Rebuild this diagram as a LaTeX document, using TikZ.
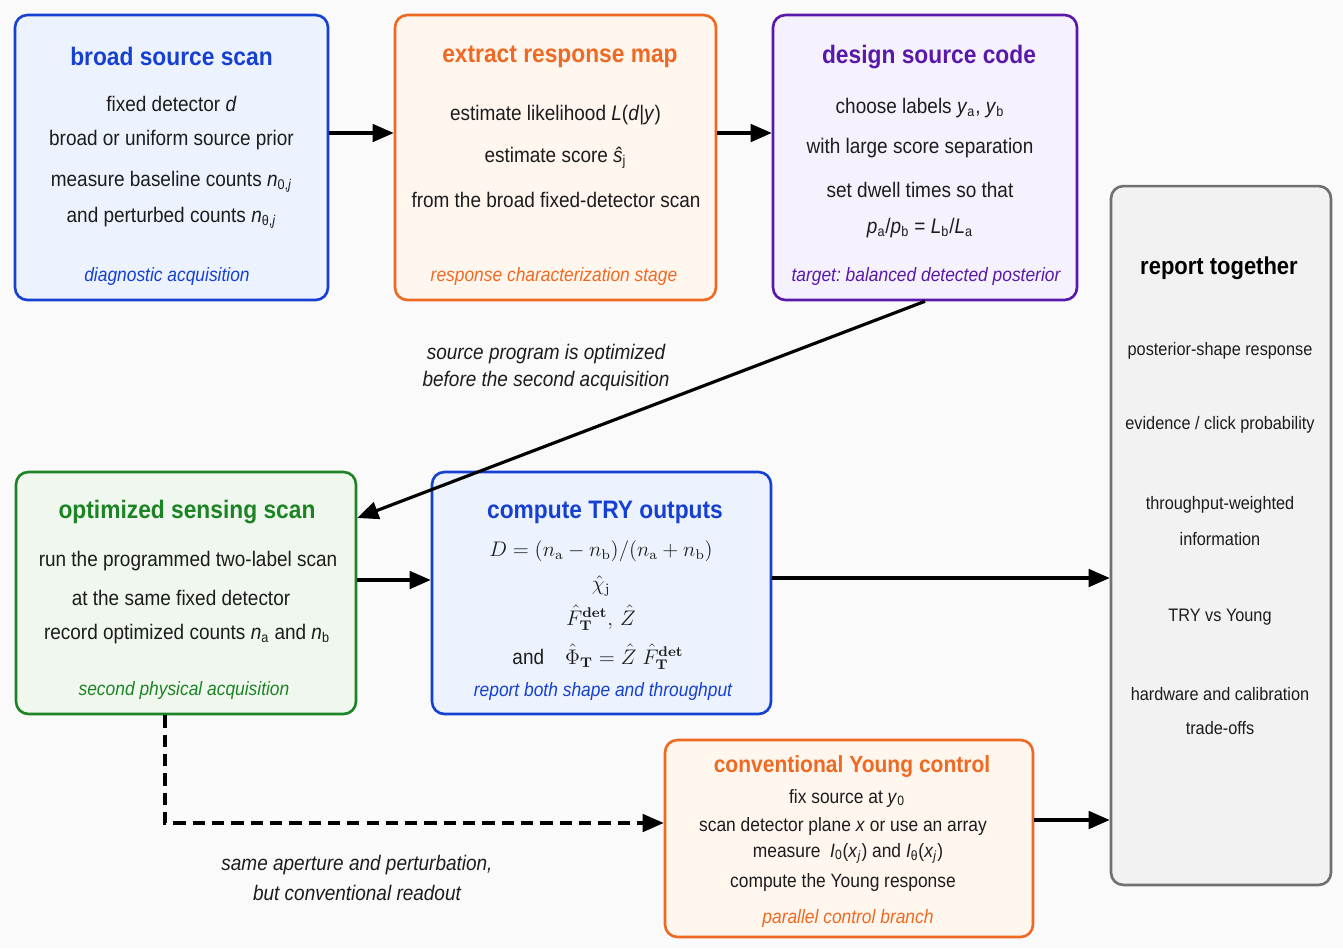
\documentclass[tikz,border=0pt]{standalone}
\usepackage{amsmath}
\usepackage[no-math]{fontspec}
\setmainfont{Liberation Sans}[FakeStretch=0.9]
\frenchspacing
\usetikzlibrary{arrows.meta, positioning}
\definecolor{pagebg}{RGB}{250,250,250}
\definecolor{tryblue}{RGB}{22,64,210}
\definecolor{trylight}{RGB}{237,243,254}
\definecolor{tryorange}{RGB}{240,105,35}
\definecolor{orangelight}{RGB}{255,246,238}
\definecolor{trypurple}{RGB}{88,25,170}
\definecolor{purplelight}{RGB}{246,242,253}
\definecolor{trygreen}{RGB}{28,132,36}
\definecolor{greenlight}{RGB}{240,247,238}
\definecolor{reportgray}{RGB}{112,112,112}
\definecolor{reportlight}{RGB}{242,242,242}
\definecolor{inktext}{RGB}{28,28,28}

\begin{document}
\begin{tikzpicture}[
    x=0.02cm, y=-0.02cm,
    stage/.style={draw, rounded corners=7pt, line width=1.5pt},
    ttl/.style={font=\fontsize{14.4}{16}\selectfont\bfseries},
    txt/.style={font=\fontsize{12}{14}\selectfont, text=inktext},
    small/.style={font=\fontsize{11}{13}\selectfont, text=inktext},
    caption/.style={font=\fontsize{11}{13}\selectfont\itshape},
    note/.style={font=\fontsize{12}{14}\selectfont\itshape, text=inktext},
    formula/.style={font=\fontsize{12}{14}\selectfont, text=inktext, inner sep=0pt},
    arr/.style={-{Triangle[length=12pt,width=10pt]}, line width=1.8pt}
]
\fill[pagebg] (0,0) rectangle (1343,948);

% stage boxes
\node[stage, draw=tryblue, fill=trylight, minimum width=6.26cm, minimum height=5.7cm] (broad) at (171.5,157.5) {};
\node[stage, draw=tryorange, fill=orangelight, minimum width=6.42cm, minimum height=5.7cm] (resp) at (555.5,157.5) {};
\node[stage, draw=trypurple, fill=purplelight, minimum width=6.08cm, minimum height=5.7cm] (code) at (925,157.5) {};
\node[stage, draw=trygreen, fill=greenlight, minimum width=6.8cm, minimum height=4.84cm] (opt) at (186,593) {};
\node[stage, draw=tryblue, fill=trylight, minimum width=6.78cm, minimum height=4.84cm] (try) at (601.5,593) {};
\node[stage, draw=tryorange, fill=orangelight, minimum width=7.36cm, minimum height=3.94cm] (young) at (849,838.5) {};
\node[stage, draw=reportgray, fill=reportlight, minimum width=4.4cm, minimum height=13.98cm] (report) at (1221,535.5) {};

% broad source scan
\node[ttl, text=tryblue] (broadT) at (171.5,56) {broad source scan};
\node[txt] (broad1) at (171.5,104) {fixed detector \textit{d}};
\node[txt] (broad2) at (171.5,140) {broad or uniform source prior};
\node[txt] (broad3) at (171.5,182) {measure baseline counts \textit{n}\textsubscript{0,\textit{j}}};
\node[txt] (broad4) at (171.5,218) {and perturbed counts \textit{n}\textsubscript{θ,\textit{j}}};
\node[caption, text=tryblue] (broadC) at (167,276) {diagnostic acquisition};

% extract response map
\node[ttl, text=tryorange] (respT) at (560,57) {extract response map};
\node[txt] (resp1) at (555.5,115) {estimate likelihood \textit{L}(\textit{d}|\textit{y})};
\node[txt] (resp2) at (555.5,158) {estimate score \textit{ŝ}\textsubscript{j}};
\node[txt] (resp3) at (556,200) {from the broad fixed-detector scan};
\node[caption, text=tryorange] (respC) at (554,276) {response characterization stage};

% design source code
\node[ttl, text=trypurple] (codeT) at (929,57) {design source code};
\node[txt] (code1) at (920,108) {choose labels \textit{y}\textsubscript{a}, \textit{y}\textsubscript{b}};
\node[txt] (code2) at (920,148) {with large score separation};
\node[txt] (code3) at (920,190) {set dwell times so that};
\node[txt] (code4) at (920,228) {\textit{p}\textsubscript{a}/\textit{p}\textsubscript{b} = \textit{L}\textsubscript{b}/\textit{L}\textsubscript{a}};
\node[caption, text=trypurple] (codeC) at (926,276) {target: balanced detected posterior};

% optimized sensing scan
\node[ttl, text=trygreen] (optT) at (187,512) {optimized sensing scan};
\node[txt] (opt1) at (188,561) {run the programmed two-label scan};
\node[txt] (opt2) at (181,598) {at the same fixed detector};
\node[txt] (opt3) at (187,634) {record optimized counts \textit{n}\textsubscript{a} and \textit{n}\textsubscript{b}};
\node[caption, text=trygreen] (optC) at (184,690) {second physical acquisition};

% compute TRY outputs
\node[ttl, text=tryblue] (tryT) at (605,512) {compute TRY outputs};
\node[formula] (try1) at (601,551)
    {$D=(n_{\mathrm{a}}-n_{\mathrm{b}})/(n_{\mathrm{a}}+n_{\mathrm{b}})$};
\node[formula] (try2) at (601,586) {$\hat{\chi}_{\mathrm{j}}$};
\node[formula] (try3) at (601,618)
    {$\hat{F}^{\mathbf{det}}_{\mathbf{T}},\,\hat{Z}$};
\node[formula] (try4) at (598,657)
    {and\quad$\hat{\Phi}_{\mathbf{T}}=\hat{Z}\;\hat{F}^{\mathbf{det}}_{\mathbf{T}}$};
\node[caption, text=tryblue] (tryC) at (603,691) {report both shape and throughput};

% conventional Young control
\node[ttl, font=\fontsize{13.3}{15}\selectfont\bfseries, text=tryorange] (youngT) at (852,766) {conventional Young control};
\node[small] (young1) at (847,798) {fix source at \textit{y}\textsubscript{0}};
\node[small] (young2) at (843,826) {scan detector plane \textit{x} or use an array};
\node[small] (young3) at (848,853) {measure\enspace\textit{I}\textsubscript{0}(\textit{x}\textsubscript{\textit{j}}) and \textit{I}\textsubscript{θ}(\textit{x}\textsubscript{\textit{j}})};
\node[small] (young4) at (843,882) {compute the Young response};
\node[caption, text=tryorange] (youngC) at (848,918) {parallel control branch};

% report together
\node[ttl, font=\fontsize{13.9}{16}\selectfont\bfseries, text=black] (repT) at (1219,268) {report together};
\foreach \yy/\tx [count=\i] in {351/{posterior-shape response}, 425/{evidence / click probability},
    505/{throughput-weighted}, 539/{information}, 617/{TRY vs Young},
    694/{hardware and calibration}, 728/{trade-offs}}{
    \node[font=\fontsize{10.3}{12}\selectfont, text=inktext] (rep\i) at (1220,\yy) {\tx};
}

% connectors
\draw[arr] (broad.east |- 0,133) -- (resp.west |- 0,133);
\draw[arr] (resp.east |- 0,133) -- (code.west |- 0,133);
\draw[arr] (code.south) -- (opt.east |- 0,518);
\draw[arr] (opt.east |- 0,580) -- (try.west |- 0,580);
\draw[arr] (try.east |- 0,578) -- (report.west |- 0,578);
\draw[arr] (young.east |- 0,820) -- (report.west |- 0,820);
\coordinate (bend) at (165,823);
\draw[arr, dash pattern=on 7pt off 4pt] (opt.south -| bend) -- (bend) -- (young.west |- bend);

% connector labels
\node[note] (progA) at (546,354) {source program is optimized};
\node[note] (progB) at (546,381) {before the second acquisition};
\node[note] (ctrlA) at (357,865) {same aperture and perturbation,};
\node[note] (ctrlB) at (357,893) {but conventional readout};
\end{tikzpicture}
\end{document}
